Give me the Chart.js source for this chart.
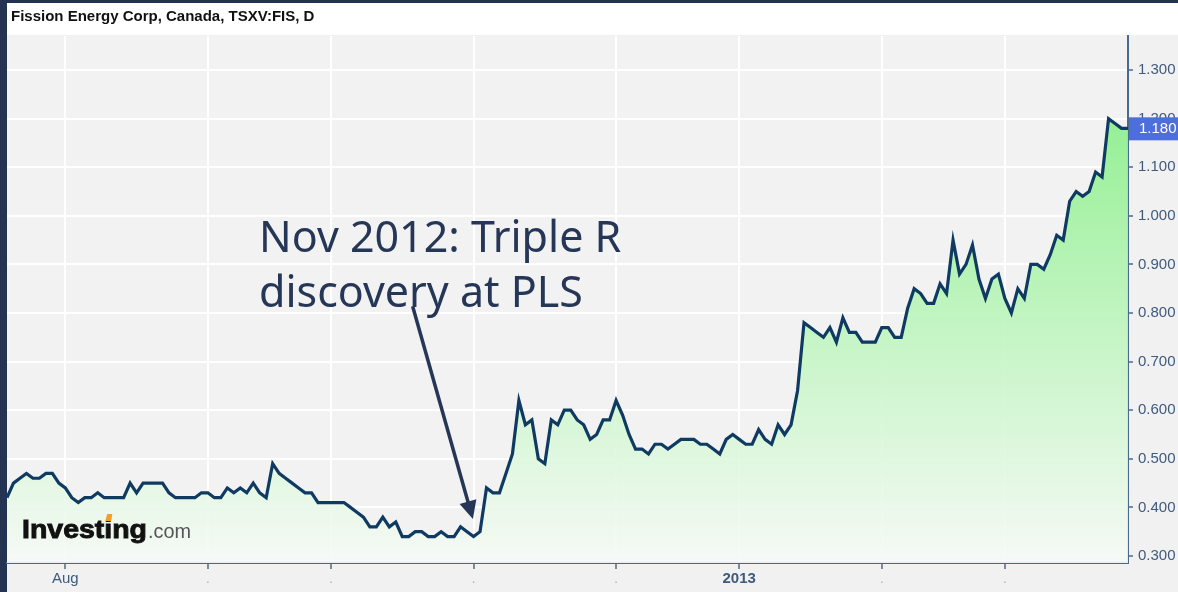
<!DOCTYPE html>
<html>
<head>
<meta charset="utf-8">
<script src="https://cdn.jsdelivr.net/npm/chart.js@4.4.1/dist/chart.umd.min.js"></script>
<style>
  html, body { margin: 0; padding: 0; background: #f1f1f1; }
  #wrap { width: 1178px; height: 592px; }
</style>
</head>
<body>
<div id="wrap"><canvas id="chart" width="1178" height="592"></canvas></div>
<script>
const title = 'Fission Energy Corp, Canada, TSXV:FIS, D';

// daily closes, TSXV trading days from firstDay to lastDay
const firstDay = '2012-07-19';
const lastDay = '2013-03-28';
const holidays = ['2012-08-06', '2012-09-03', '2012-10-08', '2012-12-25', '2012-12-26',
  '2013-01-01', '2013-02-18', '2013-03-29'];

const prices = [
  0.42, 0.45, 0.46, 0.47, 0.46, 0.46, 0.47, 0.47, 0.45,                                   // Jul
  0.44, 0.42, 0.41, 0.42, 0.42, 0.43, 0.42, 0.42, 0.42, 0.42, 0.45, 0.43, 0.45, 0.45,     // Aug
  0.45, 0.45, 0.43, 0.42, 0.42, 0.42, 0.42, 0.43,
  0.43, 0.42, 0.42, 0.44, 0.43, 0.44, 0.43, 0.45, 0.43, 0.42, 0.49, 0.47, 0.46, 0.45,     // Sep
  0.44, 0.43, 0.43, 0.41, 0.41,
  0.41, 0.41, 0.41, 0.40, 0.39, 0.38, 0.36, 0.36, 0.38, 0.36, 0.37, 0.34, 0.34, 0.35,     // Oct
  0.35, 0.34, 0.34, 0.35, 0.34, 0.34, 0.36, 0.35,
  0.34, 0.35, 0.44, 0.43, 0.43, 0.47, 0.51, 0.62, 0.57, 0.58, 0.50, 0.49, 0.58, 0.57,     // Nov
  0.60, 0.60, 0.58, 0.57, 0.54, 0.55, 0.58, 0.58,
  0.62, 0.59, 0.55, 0.52, 0.52, 0.51, 0.53, 0.53, 0.52, 0.53, 0.54, 0.54, 0.54, 0.53,     // Dec
  0.53, 0.52, 0.51, 0.54, 0.55,
  0.54, 0.53, 0.53, 0.56, 0.54, 0.53, 0.57, 0.55, 0.57, 0.64, 0.78, 0.77, 0.76, 0.75,     // Jan
  0.77, 0.74, 0.79, 0.76, 0.76, 0.74, 0.74, 0.74,
  0.77, 0.77, 0.75, 0.75, 0.81, 0.85, 0.84, 0.82, 0.82, 0.86, 0.84, 0.95, 0.88, 0.90,     // Feb
  0.94, 0.87, 0.83, 0.87, 0.88,
  0.83, 0.80, 0.85, 0.83, 0.90, 0.90, 0.89, 0.92, 0.96, 0.95, 1.03, 1.05, 1.04, 1.05,     // Mar
  1.09, 1.08, 1.20, 1.19, 1.18, 1.18
];

const yTicks = [0.3, 0.4, 0.5, 0.6, 0.7, 0.8, 0.9, 1.0, 1.1, 1.2, 1.3];
const monthLabels = ['Aug', '.', '.', '.', '.', '2013', '.', '.'];
const noteLines = ['Nov 2012: Triple R', 'discovery at PLS'];

function tradingDays(from, to, skip) {
  const out = [];
  const d = new Date(from + 'T00:00:00Z');
  const end = new Date(to + 'T00:00:00Z');
  while (d <= end) {
    const iso = d.toISOString().slice(0, 10);
    const wd = d.getUTCDay();
    if (wd !== 0 && wd !== 6 && !skip.includes(iso)) out.push(iso);
    d.setUTCDate(d.getUTCDate() + 1);
  }
  return out;
}

const days = tradingDays(firstDay, lastDay, holidays);
// first trading day of each new month gets a tick
const monthStarts = days.map((d, i) => i)
  .filter((i) => i > 0 && days[i].slice(0, 7) !== days[i - 1].slice(0, 7));

const axisBlue = '#4a6a8c';
const labelBlue = '#3e5a7c';
const navy = '#253656';

// background, title bar, logo, annotation and last-price tag
const decor = {
  id: 'decor',
  beforeDraw(chart) {
    const { ctx, chartArea: a, width, height } = chart;
    ctx.save();
    ctx.fillStyle = '#f1f1f1';
    ctx.fillRect(0, 0, width, height);
    ctx.fillStyle = '#f2f2f2';
    ctx.fillRect(a.left, a.top, a.right - a.left, a.bottom - a.top);
    ctx.fillStyle = '#ffffff';
    ctx.fillRect(0, 0, width, a.top - 1);
    ctx.fillStyle = '#243352';
    ctx.fillRect(0, 0, width, 3);
    ctx.fillRect(0, 0, 7, height);
    ctx.fillStyle = '#111111';
    ctx.font = 'bold 15px "Liberation Sans", Arial, sans-serif';
    ctx.textBaseline = 'middle';
    ctx.fillText(title, 11, 17);
    ctx.restore();
  },
  afterDatasetsDraw(chart) {
    const { ctx, scales: { x, y } } = chart;
    ctx.save();

    // Investing.com logo
    ctx.textBaseline = 'alphabetic';
    ctx.font = 'bold 26px "Liberation Sans", Arial, sans-serif';
    const w1 = ctx.measureText('Investing').width;
    const k = 125 / w1;
    const iX = 22 + k * (ctx.measureText('Invest').width + ctx.measureText('i').width / 2);
    ctx.save();
    ctx.translate(22, 538);
    ctx.scale(k, 1);
    ctx.fillStyle = '#111111';
    ctx.strokeStyle = '#111111';
    ctx.lineWidth = 0.9;
    ctx.fillText('Investing', 0, 0);
    ctx.strokeText('Investing', 0, 0);
    ctx.restore();
    ctx.fillStyle = '#f2f6f2';
    ctx.fillRect(iX - 4, 512, 8, 9);
    ctx.fillStyle = '#f5a01a';
    ctx.beginPath();
    ctx.moveTo(iX - 3, 521);
    ctx.lineTo(iX + 3, 521);
    ctx.lineTo(iX + 4, 514);
    ctx.lineTo(iX - 1, 514);
    ctx.closePath();
    ctx.fill();
    ctx.font = '20px "Liberation Sans", Arial, sans-serif';
    const w2 = ctx.measureText('.com').width;
    ctx.save();
    ctx.translate(148, 538);
    ctx.scale(43 / w2, 1);
    ctx.fillStyle = '#555555';
    ctx.fillText('.com', 0, 0);
    ctx.restore();

    // annotation text
    ctx.fillStyle = navy;
    ctx.font = '43px "Noto Sans", "Open Sans", sans-serif';
    const tx = x.getPixelForValue(38.9);
    const ty = y.getPixelForValue(0.925);
    noteLines.forEach((line, i) => ctx.fillText(line, tx, ty + i * 55));

    // arrow
    const x0 = x.getPixelForValue(62.6), y0 = y.getPixelForValue(0.814);
    const x1 = x.getPixelForValue(71.9), y1 = y.getPixelForValue(0.376);
    const ang = Math.atan2(y1 - y0, x1 - x0);
    const head = 20;
    ctx.strokeStyle = navy;
    ctx.lineWidth = 3.5;
    ctx.beginPath();
    ctx.moveTo(x0, y0);
    ctx.lineTo(x1 - Math.cos(ang) * head * 0.8, y1 - Math.sin(ang) * head * 0.8);
    ctx.stroke();
    ctx.beginPath();
    ctx.moveTo(x1, y1);
    ctx.lineTo(x1 - head * Math.cos(ang - 0.45), y1 - head * Math.sin(ang - 0.45));
    ctx.lineTo(x1 - head * Math.cos(ang + 0.45), y1 - head * Math.sin(ang + 0.45));
    ctx.closePath();
    ctx.fillStyle = navy;
    ctx.fill();
    ctx.restore();
  },
  afterDraw(chart) {
    const { ctx, chartArea: a, scales: { y } } = chart;
    const last = prices[prices.length - 1];
    const py = y.getPixelForValue(last);
    ctx.save();
    ctx.fillStyle = '#4d6fdc';
    ctx.fillRect(a.right + 1, py - 11, 50, 23);
    ctx.fillStyle = '#ffffff';
    ctx.font = '15px "Liberation Sans", Arial, sans-serif';
    ctx.textBaseline = 'middle';
    ctx.fillText(last.toFixed(3), a.right + 11, py + 1);
    ctx.restore();
  }
};

new Chart(document.getElementById('chart'), {
  type: 'line',
  data: {
    labels: days,
    datasets: [{
      data: prices,
      borderColor: '#0f3a62',
      borderWidth: 3.2,
      pointRadius: 0,
      tension: 0,
      fill: 'start',
      backgroundColor: (c) => {
        const a = c.chart.chartArea;
        if (!a) return 'rgba(180,240,180,0.8)';
        const g = c.chart.ctx.createLinearGradient(0, a.top, 0, a.bottom);
        g.addColorStop(0, 'rgba(124,238,124,0.95)');
        g.addColorStop(1, 'rgba(246,250,246,0.9)');
        return g;
      },
    }],
  },
  options: {
    responsive: false,
    animation: false,
    devicePixelRatio: 1,
    layout: { padding: { top: 36, left: 7, right: 0, bottom: 0 } },
    plugins: { legend: { display: false }, tooltip: { enabled: false } },
    scales: {
      x: {
        type: 'category',
        offset: false,
        afterBuildTicks: (s) => { s.ticks = monthStarts.map((i) => ({ value: i })); },
        afterFit: (s) => { s.height = 29; },
        grid: { color: '#ffffff', lineWidth: 2, tickLength: 6, tickColor: axisBlue, tickWidth: 1.5 },
        border: { color: axisBlue, width: 2 },
        ticks: {
          autoSkip: false,
          maxRotation: 0,
          padding: 1,
          callback: (v, i) => monthLabels[i],
          color: (c) => (c.tick && c.tick.label === '.' ? '#a9b8c9' : labelBlue),
          font: (c) => ({ family: '"Liberation Sans", Arial, sans-serif', size: 15,
            weight: c.tick && c.tick.label === '2013' ? 'bold' : 'normal' }),
        },
      },
      y: {
        position: 'right',
        min: 0.2856,
        max: 1.37,
        afterBuildTicks: (s) => { s.ticks = yTicks.map((v) => ({ value: v })); },
        afterFit: (s) => { s.width = 50; },
        grid: { color: '#ffffff', lineWidth: 2, tickLength: 5, tickColor: axisBlue, tickWidth: 1.5 },
        border: { color: axisBlue, width: 2 },
        ticks: {
          padding: 5,
          color: labelBlue,
          font: { family: '"Liberation Sans", Arial, sans-serif', size: 15 },
          callback: (v) => Number(v).toFixed(3),
        },
      },
    },
  },
  plugins: [decor],
});
</script>
</body>
</html>
